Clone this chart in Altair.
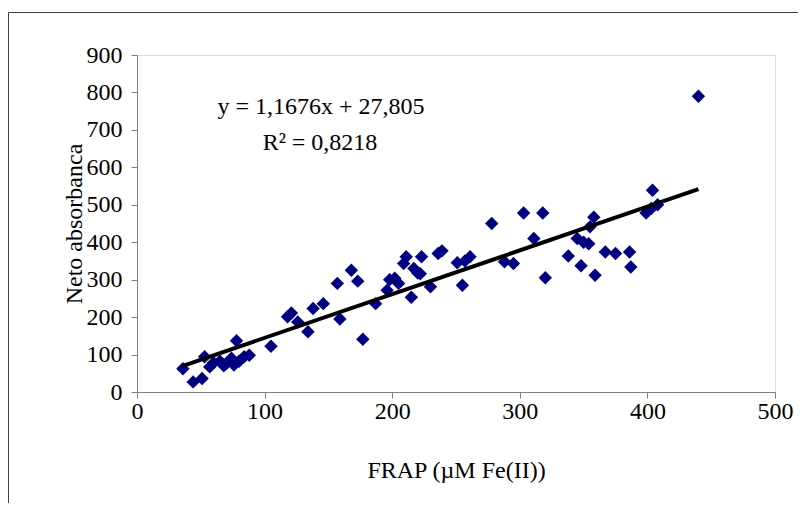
import altair as alt
import pandas as pd

# FRAP (µM Fe(II)) values and Neto absorbanca values
frap = [36, 44, 51, 53, 57, 60, 65, 68, 70, 74, 76, 78, 80, 84, 88, 105,
        118, 121, 126, 134, 138, 146, 157, 159, 168, 173, 177, 187,
        196, 198, 202, 205, 209, 211, 215, 217, 220, 222, 223, 230, 236, 239,
        251, 255, 257, 261, 278, 288, 295, 303, 311, 318, 320,
        338, 345, 348, 350, 354, 355, 358, 359, 367, 375, 386, 387,
        399, 403, 404, 408, 440]
neto = [62, 27, 36, 94, 67, 78, 82, 70, 76, 90, 72, 137, 82, 94, 98, 122,
        201, 211, 187, 161, 223, 236, 290, 195, 325, 296, 141, 236,
        272, 300, 304, 290, 343, 361, 253, 330, 318, 316, 361, 281, 370, 377,
        345, 285, 350, 361, 450, 348, 343, 478, 410, 478, 305,
        363, 410, 337, 400, 396, 441, 467, 312, 374, 370, 374, 334,
        478, 490, 539, 500, 790]

slope = 1.1676
intercept = 27.805
eq_lines = ["y = 1,1676x + 27,805", "R² = 0,8218"]

x_ticks = [0, 100, 200, 300, 400, 500]
y_ticks = [0, 100, 200, 300, 400, 500, 600, 700, 800, 900]

df = pd.DataFrame({"frap": frap, "neto": neto})
xmin, xmax = min(frap), max(frap)
trend = pd.DataFrame({"frap": [xmin, xmax],
                      "neto": [slope * xmin + intercept, slope * xmax + intercept]})

FONT = "Liberation Serif"
FS = 24
W, H = 638, 337
PAD = {"left": 129, "top": 47, "right": 23, "bottom": 111}

xs = alt.Scale(domain=[0, 500], nice=False, zero=False)
ys = alt.Scale(domain=[0, 900], nice=False, zero=False)

xaxis = alt.Axis(values=x_ticks, title="FRAP (µM Fe(II))", titlePadding=35,
                 labelPadding=1)
yaxis = alt.Axis(values=y_ticks, title="Neto absorbanca", titlePadding=0,
                 labelPadding=9)

points = alt.Chart(df).mark_point(shape="diamond", filled=True, size=180,
                                  color="#000080", opacity=1).encode(
    x=alt.X("frap:Q", scale=xs, axis=xaxis),
    y=alt.Y("neto:Q", scale=ys, axis=yaxis),
)

line = alt.Chart(trend).mark_line(color="black", strokeWidth=4).encode(
    x=alt.X("frap:Q", scale=xs, axis=xaxis),
    y=alt.Y("neto:Q", scale=ys, axis=yaxis),
)

eq_df = pd.DataFrame({"t": eq_lines, "i": [0, 1]})
eq1 = alt.Chart(eq_df.iloc[[0]]).mark_text(font=FONT, fontSize=FS, color="black",
                                           align="center", baseline="middle").encode(
    text="t:N", x=alt.value(184), y=alt.value(52))
eq2 = alt.Chart(eq_df.iloc[[1]]).mark_text(font=FONT, fontSize=FS, color="black",
                                           align="center", baseline="middle").encode(
    text="t:N", x=alt.value(183), y=alt.value(88))

frame_top = alt.Chart(pd.DataFrame({"a": [0]})).mark_rule(color="#404040", strokeWidth=1).encode(
    x=alt.value(-128.5), x2=alt.value(W + PAD["right"]), y=alt.value(-42.5))
frame_left = alt.Chart(pd.DataFrame({"a": [0]})).mark_rule(color="#404040", strokeWidth=1).encode(
    x=alt.value(-128.5), y=alt.value(-42.5), y2=alt.value(H + PAD["bottom"]))

chart = alt.layer(points, line, eq1, eq2, frame_top, frame_left).properties(
    width=W, height=H,
    autosize=alt.AutoSizeParams(type="none"),
    padding=PAD,
).configure_view(stroke=None).configure(background="white").configure_axis(
    grid=False, labelFont=FONT, labelFontSize=FS, labelColor="black",
    titleFont=FONT, titleFontSize=FS, titleFontWeight="normal", titleColor="black",
    domainColor="#808080", tickColor="#808080", tickSize=6,
    labelFlush=False, labelOverlap=False,
)

chart.save("out.html", embed_options={"renderer": "svg", "actions": False})
